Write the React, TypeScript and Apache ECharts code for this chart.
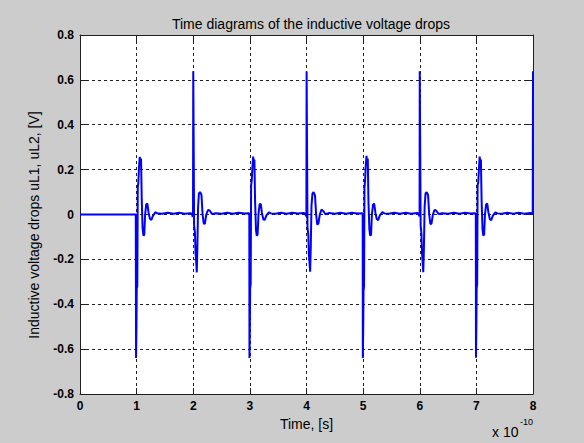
import React, { useEffect, useRef } from "react";
import * as echarts from "echarts";

// Time in units of 1e-10 s, voltage in V
const leadIn: [number, number][] = [[0, 0], [0.985, 0]];

const pulse1: [number, number][] = [
  [0.99, -0.64], [0.997, -0.5], [1.002, -0.33], [1.012, -0.32], [1.02, 0.12], [1.03, 0.14],
  [1.04, 0.2], [1.055, 0.257], [1.07, 0.22], [1.078, 0.25], [1.09, 0.07], [1.105, -0.06],
  [1.12, -0.094], [1.135, -0.09], [1.15, 0.0], [1.17, 0.045], [1.19, 0.048], [1.21, 0.01],
  [1.235, -0.02], [1.26, -0.024], [1.29, -0.005], [1.33, 0.01], [1.36, 0.006], [1.45, 0.003],
  [1.55, 0.008], [1.65, 0.003], [1.75, 0.008], [1.85, 0.003], [1.95, 0.006], [1.975, 0.004],
];

const pulse2: [number, number][] = [
  [1.988, -0.01], [1.996, 0.0], [2.0, 0.638], [2.008, 0.3], [2.015, -0.05], [2.03, -0.08],
  [2.04, -0.17], [2.05, -0.2], [2.062, -0.258], [2.072, -0.16], [2.085, 0.03], [2.1, 0.094],
  [2.12, 0.1], [2.145, 0.088], [2.165, 0.0], [2.185, -0.04], [2.205, -0.042], [2.23, 0.0],
  [2.26, 0.02], [2.29, 0.018], [2.33, 0.002], [2.4, 0.006], [2.5, 0.003], [2.6, 0.008],
  [2.7, 0.003], [2.8, 0.008], [2.9, 0.004], [2.975, 0.006], [2.99, 0.003],
];

const pulse3: [number, number][] = [
  [2.993, -0.64], [3.0, -0.48], [3.005, -0.33], [3.014, -0.31], [3.022, 0.13], [3.032, 0.15],
  [3.045, 0.21], [3.058, 0.258], [3.07, 0.23], [3.08, 0.245], [3.092, 0.06], [3.108, -0.07],
  [3.122, -0.095], [3.137, -0.088], [3.152, 0.0], [3.172, 0.046], [3.192, 0.047], [3.212, 0.008],
  [3.238, -0.022], [3.262, -0.024], [3.292, -0.004], [3.335, 0.01], [3.37, 0.005], [3.45, 0.003],
  [3.55, 0.008], [3.65, 0.003], [3.75, 0.008], [3.85, 0.004], [3.95, 0.007], [3.985, 0.003],
];

const pulse4: [number, number][] = [
  [3.99, -0.008], [3.998, 0.0], [4.002, 0.637], [4.01, 0.28], [4.018, -0.06], [4.032, -0.09],
  [4.042, -0.18], [4.052, -0.21], [4.064, -0.255], [4.075, -0.15], [4.088, 0.04], [4.105, 0.093],
  [4.125, 0.1], [4.15, 0.085], [4.17, 0.0], [4.19, -0.045], [4.21, -0.04], [4.235, 0.0],
  [4.265, 0.022], [4.295, 0.016], [4.335, 0.001], [4.4, 0.007], [4.5, 0.003], [4.6, 0.008],
  [4.7, 0.003], [4.8, 0.008], [4.9, 0.004], [4.985, 0.006], [4.992, 0.002],
];

const pulse5: [number, number][] = [
  [4.995, -0.64], [5.002, -0.5], [5.007, -0.34], [5.016, -0.32], [5.024, 0.12], [5.034, 0.15],
  [5.047, 0.22], [5.06, 0.262], [5.072, 0.225], [5.082, 0.25], [5.094, 0.06], [5.11, -0.065],
  [5.124, -0.094], [5.14, -0.09], [5.155, 0.0], [5.175, 0.044], [5.196, 0.049], [5.216, 0.009],
  [5.24, -0.02], [5.265, -0.025], [5.295, -0.004], [5.34, 0.011], [5.375, 0.005], [5.45, 0.003],
  [5.55, 0.008], [5.65, 0.003], [5.75, 0.008], [5.85, 0.003], [5.95, 0.007], [5.985, 0.004],
];

const pulse6: [number, number][] = [
  [5.99, -0.009], [5.997, 0.0], [6.0, 0.638], [6.008, 0.29], [6.016, -0.05], [6.03, -0.085],
  [6.04, -0.17], [6.05, -0.21], [6.062, -0.257], [6.073, -0.155], [6.086, 0.035], [6.102, 0.094],
  [6.122, 0.1], [6.147, 0.087], [6.167, 0.0], [6.187, -0.042], [6.207, -0.041], [6.232, 0.0],
  [6.262, 0.021], [6.292, 0.017], [6.332, 0.002], [6.4, 0.006], [6.5, 0.003], [6.6, 0.008],
  [6.7, 0.003], [6.8, 0.008], [6.9, 0.004], [6.98, 0.006], [6.99, 0.003],
];

const pulse7: [number, number][] = [
  [6.993, -0.638], [7.0, -0.49], [7.005, -0.33], [7.014, -0.31], [7.022, 0.13], [7.032, 0.14],
  [7.045, 0.2], [7.058, 0.258], [7.07, 0.23], [7.08, 0.245], [7.092, 0.065], [7.108, -0.065],
  [7.122, -0.094], [7.137, -0.089], [7.152, 0.0], [7.172, 0.045], [7.192, 0.048], [7.212, 0.01],
  [7.238, -0.021], [7.262, -0.025], [7.292, -0.005], [7.335, 0.01], [7.37, 0.005], [7.45, 0.003],
  [7.55, 0.008], [7.65, 0.003], [7.75, 0.008], [7.85, 0.003], [7.95, 0.007], [7.995, 0.004],
];

const pulse8: [number, number][] = [[8.0, 0.638]];

const xTicks = [0, 1, 2, 3, 4, 5, 6, 7, 8];
const yTicks = [-0.8, -0.6, -0.4, -0.2, 0, 0.2, 0.4, 0.6, 0.8];

const TITLE = "Time diagrams of the inductive voltage drops";
const X_NAME = "Time, [s]";
const Y_NAME = "Inductive voltage drops uL1, uL2, [V]";
const X_EXP_BASE = "x 10";
const X_EXP_POWER = "-10";

const FONT = "'Liberation Sans', Arial, Helvetica, sans-serif";

export default function App() {
  const ref = useRef<HTMLDivElement>(null);

  useEffect(() => {
    if (!ref.current) return;
    const chart = echarts.init(ref.current, undefined, { renderer: "svg" });
    const trace = [
      ...leadIn, ...pulse1, ...pulse2, ...pulse3, ...pulse4,
      ...pulse5, ...pulse6, ...pulse7, ...pulse8,
    ];
    const xMin = xTicks[0];
    const xMax = xTicks[xTicks.length - 1];
    const yMin = yTicks[0];
    const yMax = yTicks[yTicks.length - 1];
    const axisLineStyle = { color: "#202020", width: 1 };
    const tickStyle = { show: true, inside: true, length: 6, lineStyle: { color: "#202020", width: 1 } };
    const labelStyle = { color: "#000", fontSize: 12, fontWeight: "bold", fontFamily: FONT };

    chart.setOption({
      animation: false,
      backgroundColor: "#cccccc",
      title: {
        text: TITLE,
        left: 306,
        top: 12,
        textAlign: "center",
        textStyle: { fontSize: 14, fontWeight: "normal", color: "#000", fontFamily: FONT },
      },
      grid: { left: 80, right: 51, top: 35, bottom: 49, show: true, backgroundColor: "#ffffff", borderWidth: 0 },
      xAxis: [
        {
          type: "value",
          min: xMin,
          max: xMax,
          interval: 1,
          position: "bottom",
          name: X_NAME,
          nameLocation: "middle",
          nameGap: 22,
          nameTextStyle: { fontSize: 14, color: "#000", fontFamily: FONT },
          axisLine: { show: true, onZero: false, lineStyle: axisLineStyle },
          axisTick: tickStyle,
          axisLabel: { ...labelStyle, margin: 6 },
          splitLine: { show: true, lineStyle: { color: "#202020", type: [3, 3], width: 1 } },
        },
        {
          type: "value",
          min: xMin,
          max: xMax,
          interval: 1,
          position: "top",
          axisLine: { show: true, onZero: false, lineStyle: axisLineStyle },
          axisTick: tickStyle,
          axisLabel: { show: false },
          splitLine: { show: false },
        },
      ],
      yAxis: [
        {
          type: "value",
          min: yMin,
          max: yMax,
          interval: 0.2,
          position: "left",
          axisLine: { show: true, onZero: false, lineStyle: axisLineStyle },
          axisTick: tickStyle,
          axisLabel: {
            ...labelStyle,
            margin: 6,
            formatter: (v: number) => String(Math.round(v * 10) / 10),
          },
          splitLine: { show: true, lineStyle: { color: "#202020", type: [3, 3], width: 1 } },
        },
        {
          type: "value",
          min: yMin,
          max: yMax,
          interval: 0.2,
          position: "right",
          axisLine: { show: true, onZero: false, lineStyle: axisLineStyle },
          axisTick: tickStyle,
          axisLabel: { show: false },
          splitLine: { show: false },
        },
      ],
      graphic: [
        {
          type: "text",
          x: 34,
          y: 225,
          rotation: Math.PI / 2,
          style: {
            text: Y_NAME,
            fontSize: 14,
            fontFamily: FONT,
            fill: "#000",
            align: "center",
            verticalAlign: "middle",
          },
        },
        {
          type: "text",
          x: 492,
          y: 432,
          style: { text: X_EXP_BASE, fontSize: 14, fontFamily: FONT, fill: "#000", verticalAlign: "middle" },
        },
        {
          type: "text",
          x: 520,
          y: 422,
          style: { text: X_EXP_POWER, fontSize: 9, fontFamily: FONT, fill: "#000", verticalAlign: "middle" },
        },
      ],
      series: [
        {
          type: "line",
          xAxisIndex: 0,
          yAxisIndex: 0,
          data: trace,
          showSymbol: false,
          symbol: "none",
          lineStyle: { color: "#0000ff", width: 2 },
          clip: true,
        },
      ],
    });
    return () => chart.dispose();
  }, []);

  return (
    <div
      ref={ref}
      style={{ position: "absolute", left: 0, top: 0, width: 584, height: 443 }}
    />
  );
}
